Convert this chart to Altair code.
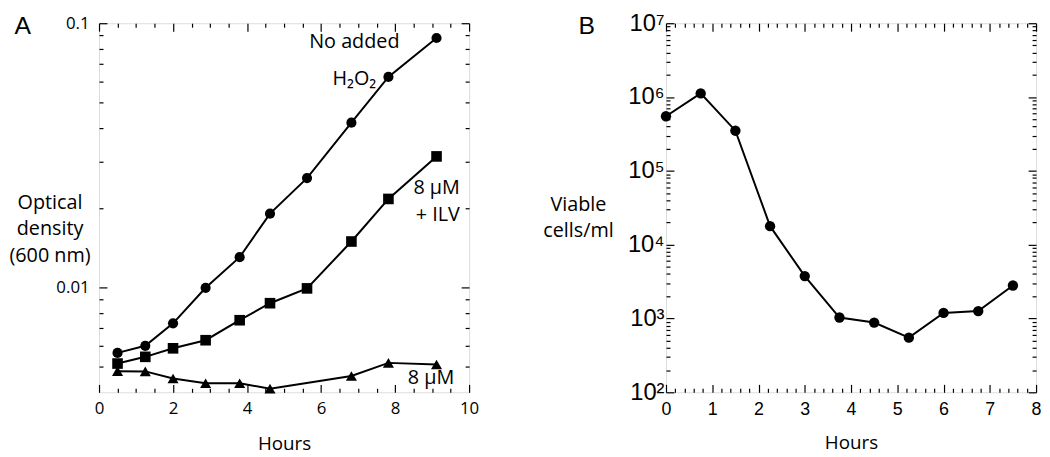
import altair as alt
import pandas as pd

# ---------------- Panel A data ----------------
hours_a = [0.5, 1.25, 2.0, 2.88, 3.8, 4.62, 5.62, 6.82, 7.82, 9.12]
od_no_h2o2 = [0.00564, 0.0060, 0.0073, 0.00995, 0.0130, 0.0190, 0.0259, 0.0420, 0.0626, 0.0879]
od_8um_ilv = [0.00514, 0.00545, 0.00587, 0.0063, 0.0075, 0.0087, 0.0099, 0.0149, 0.0216, 0.0313]
hours_a_8um = [0.5, 1.25, 2.0, 2.88, 3.8, 4.62, 6.82, 7.82, 9.12]
od_8um = [0.00481, 0.0048, 0.00451, 0.00433, 0.00433, 0.00413, 0.00461, 0.00517, 0.0051]
series_names = ["No added H2O2", "8 uM + ILV", "8 uM"]
series_shapes = ["circle", "square", "triangle-up"]
series_sizes = [105, 125, 95]

ann_center_text = ["No added", "H\u2082O\u2082"]
ann_center_x = [6.9, 6.9]
ann_center_y = [0.0847, 0.0616]
ann_right_text = ["8 \u00b5M", "+ ILV", "8 \u00b5M"]
ann_right_x = [9.75, 9.75, 9.6]
ann_right_y = [0.0237, 0.01875, 0.00451]

a_x_ticks = [i * 0.5 for i in range(21)]
a_y_ticks = [0.005, 0.006, 0.007, 0.008, 0.009, 0.01, 0.02, 0.03, 0.04,
             0.05, 0.06, 0.07, 0.08, 0.09, 0.1]

# ---------------- Panel B data ----------------
hours_b = [0, 0.75, 1.5, 2.25, 3.0, 3.75, 4.5, 5.25, 6.0, 6.75, 7.5]
viable_cells = [5.5e5, 1.12e6, 3.5e5, 1.78e4, 3.75e3, 1.03e3, 880, 550, 1190, 1260, 2800]
b_x_ticks = [round(i * 0.2, 1) for i in range(41)]
b_y_ticks = [m * 10 ** e for e in range(2, 7) for m in range(1, 10)] + [10 ** 7]
b_decade_labels = ["10\u00b2", "10\u00b3", "10\u2074", "10\u2075", "10\u2076", "10\u2077"]

W, H = 374, 373
FONT = "Open Sans"

df_a = pd.DataFrame({
    "hours": hours_a + hours_a + hours_a_8um,
    "od": od_no_h2o2 + od_8um_ilv + od_8um,
    "series": [series_names[0]] * len(hours_a) + [series_names[1]] * len(hours_a)
              + [series_names[2]] * len(hours_a_8um),
})
df_b = pd.DataFrame({"hours": hours_b, "cells": viable_cells})
df_ac = pd.DataFrame({"t": ann_center_text, "x": ann_center_x, "y": ann_center_y})
df_ar = pd.DataFrame({"t": ann_right_text, "x": ann_right_x, "y": ann_right_y})


def tick_axis(orient, offset, values, major_test):
    return alt.Axis(orient=orient, offset=offset, values=values, labels=False,
                    domain=False, grid=False, title=None, ticks=True,
                    tickColor="black", tickWidth=1.2,
                    tickSize={"condition": {"test": major_test, "value": 8}, "value": 4})


# ---------------- Panel A ----------------
xs_a = alt.Scale(domain=[0, 10], nice=False, zero=False)
ys_a = alt.Scale(type="log", domain=[0.004, 0.1], nice=False)
a_x_major = "abs(datum.value % 2) < 1e-6"
a_y_major = "abs(datum.value - 0.1) < 1e-9 || abs(datum.value - 0.01) < 1e-9"

a_line = alt.Chart(df_a).mark_line(color="black", strokeWidth=2).encode(
    x=alt.X("hours:Q", scale=xs_a, axis=alt.Axis(
        orient="bottom", values=a_x_ticks, ticks=False, domain=False, grid=False,
        labelExpr=f"{a_x_major} ? format(datum.value, 'd') : ''",
        labelFont=FONT, labelFontSize=17, labelColor="black", labelPadding=8,
        labelFlush=False, labelOverlap=False, labelBound=False,
        title="Hours", titleFont=FONT, titleFontSize=19, titleFontWeight="normal",
        titleColor="black", titleY=52, titleBaseline="middle")),
    y=alt.Y("od:Q", scale=ys_a, axis=alt.Axis(
        orient="left", values=a_y_ticks, ticks=False, domain=False, grid=False,
        labelExpr="abs(datum.value - 0.1) < 1e-9 ? '0.1' : (abs(datum.value - 0.01) < 1e-9 ? '0.01' : '')",
        labelFont=FONT, labelFontSize=17, labelColor="black", labelPadding=10,
        labelOverlap=False, labelFlush=False, labelBound=False,
        title=["Optical", "density", "(600 nm)"], titleFont=FONT, titleFontSize=20,
        titleFontWeight="normal", titleColor="black", titleAngle=0, titleAlign="center",
        titleBaseline="middle", titleX=-50, titleY=181, titleLineHeight=27)),
    detail="series:N",
)

a_points = alt.Chart(df_a).mark_point(filled=True, color="black", opacity=1).encode(
    x=alt.X("hours:Q", scale=xs_a, axis=None),
    y=alt.Y("od:Q", scale=ys_a, axis=None),
    shape=alt.Shape("series:N", scale=alt.Scale(domain=series_names, range=series_shapes), legend=None),
    size=alt.Size("series:N", scale=alt.Scale(domain=series_names, range=series_sizes), legend=None),
)

a_ticks1 = alt.Chart(df_a).mark_point(opacity=0).encode(
    x=alt.X("hours:Q", scale=xs_a, axis=tick_axis("top", -H, a_x_ticks, a_x_major)),
    y=alt.Y("od:Q", scale=ys_a, axis=tick_axis("right", -W, a_y_ticks, a_y_major)),
)
a_ticks2 = alt.Chart(df_a).mark_point(opacity=0).encode(
    x=alt.X("hours:Q", scale=xs_a, axis=tick_axis("bottom", -H, a_x_ticks, a_x_major)),
    y=alt.Y("od:Q", scale=ys_a, axis=tick_axis("left", -W, a_y_ticks, a_y_major)),
)

a_text_c = alt.Chart(df_ac).mark_text(font=FONT, fontSize=20, color="black", align="center",
                                      baseline="middle").encode(
    x=alt.X("x:Q", scale=xs_a, axis=None), y=alt.Y("y:Q", scale=ys_a, axis=None), text="t:N")
a_text_r = alt.Chart(df_ar).mark_text(font=FONT, fontSize=20, color="black", align="right",
                                      baseline="middle").encode(
    x=alt.X("x:Q", scale=xs_a, axis=None), y=alt.Y("y:Q", scale=ys_a, axis=None), text="t:N")

a_label = alt.Chart(pd.DataFrame({"t": ["A"]})).mark_text(
    font="Liberation Sans", fontSize=25, color="black", align="center",
    baseline="alphabetic").encode(text="t:N", x=alt.value(-77), y=alt.value(10.5))

panel_a = alt.layer(a_line, a_points, a_ticks1, a_ticks2, a_text_c, a_text_r, a_label).resolve_axis(
    x="independent", y="independent").properties(width=W, height=H)

# ---------------- Panel B ----------------
xs_b = alt.Scale(domain=[0, 8], nice=False, zero=False)
ys_b = alt.Scale(type="log", domain=[100, 1e7], nice=False)
b_x_major = "abs(datum.value - round(datum.value)) < 1e-6"
b_y_major = "abs(log(datum.value)/LN10 - round(log(datum.value)/LN10)) < 1e-6"
label_list = "[" + ",".join(f"'{s}'" for s in b_decade_labels) + "]"

b_line = alt.Chart(df_b).mark_line(color="black", strokeWidth=2).encode(
    x=alt.X("hours:Q", scale=xs_b, axis=alt.Axis(
        orient="bottom", values=b_x_ticks, ticks=False, domain=False, grid=False,
        labelExpr=f"{b_x_major} ? format(datum.value, 'd') : ''",
        labelFont="Liberation Sans", labelFontSize=18, labelColor="black", labelPadding=8,
        labelFlush=False, labelOverlap=False, labelBound=False,
        title="Hours", titleFont=FONT, titleFontSize=19, titleFontWeight="normal",
        titleColor="black", titleY=51, titleBaseline="middle")),
    y=alt.Y("cells:Q", scale=ys_b, axis=alt.Axis(
        orient="left", values=b_y_ticks, ticks=False, domain=False, grid=False,
        labelExpr=f"{b_y_major} ? {label_list}[round(log(datum.value)/LN10) - 2] : ''",
        labelFont="Liberation Sans", labelFontSize=24, labelColor="black", labelPadding=2,
        labelOverlap=False, labelFlush=False, labelBound=False,
        title=["Viable", "cells/ml"], titleFont=FONT, titleFontSize=20,
        titleFontWeight="normal", titleColor="black", titleAngle=0, titleAlign="center",
        titleBaseline="middle", titleX=-89, titleY=183, titleLineHeight=27)),
)
b_points = alt.Chart(df_b).mark_point(filled=True, color="black", opacity=1, size=110).encode(
    x=alt.X("hours:Q", scale=xs_b, axis=None),
    y=alt.Y("cells:Q", scale=ys_b, axis=None),
)
b_ticks1 = alt.Chart(df_b).mark_point(opacity=0).encode(
    x=alt.X("hours:Q", scale=xs_b, axis=tick_axis("top", -H, b_x_ticks, b_x_major)),
    y=alt.Y("cells:Q", scale=ys_b, axis=tick_axis("right", -W, b_y_ticks, b_y_major)),
)
b_ticks2 = alt.Chart(df_b).mark_point(opacity=0).encode(
    x=alt.X("hours:Q", scale=xs_b, axis=tick_axis("bottom", -H, b_x_ticks, b_x_major)),
    y=alt.Y("cells:Q", scale=ys_b, axis=tick_axis("left", -W, b_y_ticks, b_y_major)),
)
b_label = alt.Chart(pd.DataFrame({"t": ["B"]})).mark_text(
    font="Liberation Sans", fontSize=25, color="black", align="center",
    baseline="alphabetic").encode(text="t:N", x=alt.value(-80), y=alt.value(10.5))

panel_b = alt.layer(b_line, b_points, b_ticks1, b_ticks2, b_label).resolve_axis(
    x="independent", y="independent").properties(width=W, height=H)

chart = alt.hconcat(panel_a, panel_b, spacing=199, bounds="flush").properties(
    padding=0
).configure_view(stroke="black", strokeWidth=1.5).configure(background="white")

chart.save("out.html", embed_options={"renderer": "svg", "actions": False})
